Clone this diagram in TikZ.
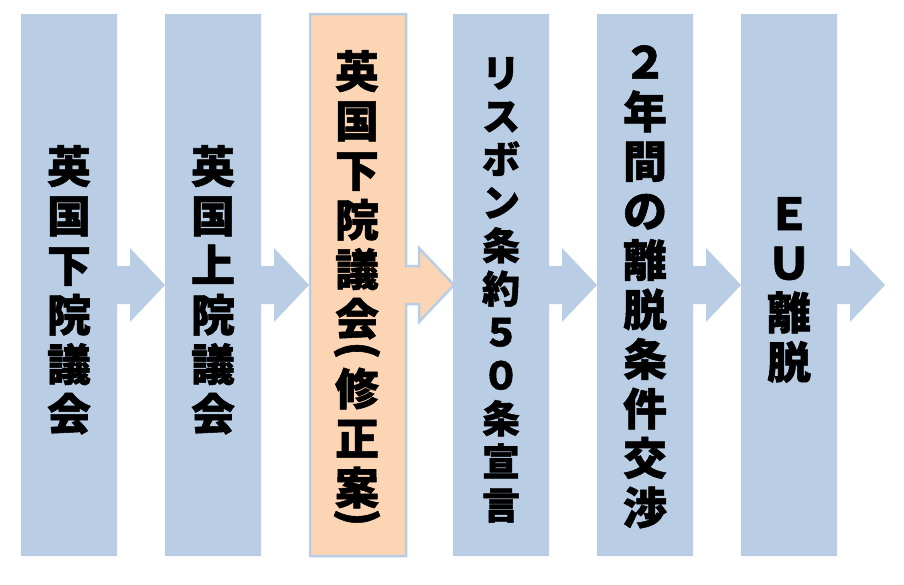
\documentclass[tikz,border=0pt]{standalone}
\usepackage{fontspec}
\newfontfamily\cjk{Noto Sans CJK JP}[BoldFeatures={FakeBold=1.2}]
\definecolor{boxblue}{HTML}{B9CDE5}
\definecolor{boxorange}{HTML}{FCD5B5}
\tikzset{
  pics/stagebox/.style={code={
    \path[pic actions] (0,14) -- (96,14) -- (96,266) -- (109,266) -- (109,248)
      -- (144,285) -- (109,322) -- (109,304) -- (96,304) -- (96,556) -- (0,556) -- cycle;
  }},
  stageblue/.style={fill=boxblue},
  stageorange/.style={fill=boxorange, draw=boxblue, line width=2.5pt, line join=miter},
  stagetext/.style={inner sep=0pt, anchor=north, align=center, text=black,
    font=\cjk\bfseries\fontsize{44}{49.5}\selectfont},
  stagetextsmall/.style={stagetext, font=\cjk\bfseries\fontsize{38}{43.2}\selectfont},
  paren/.style={inner sep=0pt, anchor=center, text=black,
    font=\cjk\bfseries\fontsize{44}{49.5}\selectfont}
}
\begin{document}
\begin{tikzpicture}[x=1pt,y=-1pt]
\useasboundingbox (0,0) rectangle (904,584);
\fill[white] (0,0) rectangle (904,584);
\pic[stageblue] (s1) at (21,0) {stagebox};
\pic[stageblue] (s2) at (165,0) {stagebox};
\pic[stageorange] (s3) at (310,0) {stagebox};
\pic[stageblue] (s4) at (453,0) {stagebox};
\pic[stageblue] (s5) at (597,0) {stagebox};
\pic[stageblue] (s6) at (741,0) {stagebox};
\node[stagetext] (t1) at (69,145) {英\\国\\下\\院\\議\\会};
\node[stagetext] (t2) at (213,145) {英\\国\\上\\院\\議\\会};
\node[stagetext] (t3) at (357,50) {英\\国\\下\\院\\議\\会\\[20.5pt]修\\正\\案};
\node[paren] (p1) at (357,353) {\rotatebox[origin=c]{-90}{(}};
\node[paren] (p2) at (357,520) {\rotatebox[origin=c]{-90}{)}};
\node[stagetextsmall] (t4) at (501,57) {リ\\ス\\ボ\\ン\\条\\約\\５\\０\\条\\宣\\言};
\node[stagetext] (t5) at (645,45) {２\\年\\間\\の\\離\\脱\\条\\件\\交\\渉};
\node[stagetext] (t6) at (789,197) {Ｅ\\Ｕ\\離\\脱};
\end{tikzpicture}
\end{document}
